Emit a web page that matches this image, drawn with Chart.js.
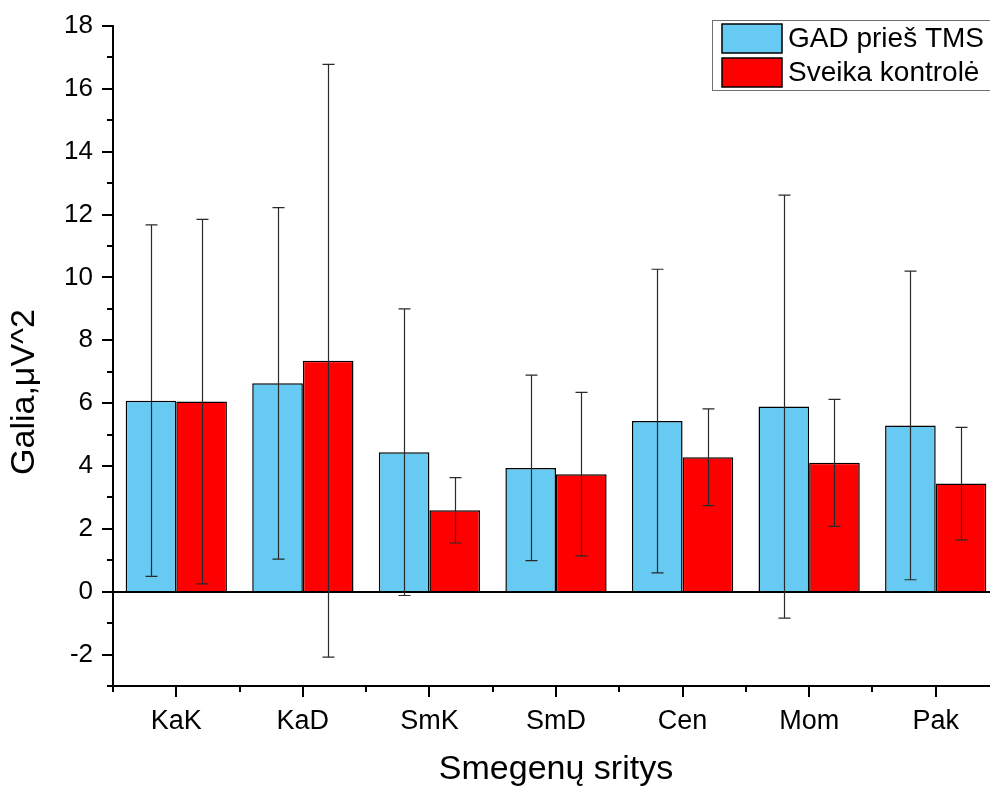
<!DOCTYPE html>
<html>
<head>
<meta charset="utf-8">
<script src="https://cdn.jsdelivr.net/npm/chart.js@4.4.1/dist/chart.umd.min.js"></script>
<style>
  html, body { margin: 0; padding: 0; background: #fff; overflow: hidden; }
  canvas { display: block; }
</style>
</head>
<body>
<canvas id="c" width="1000" height="787"></canvas>
<script>
const categories = ['KaK', 'KaD', 'SmK', 'SmD', 'Cen', 'Mom', 'Pak'];
const gadMeans  = [6.08, 6.63, 4.44, 3.94, 5.43, 5.89, 5.29];
const gadSD     = [5.59, 5.59, 4.56, 2.95, 4.83, 6.73, 4.91];
const ctrlMeans = [6.05, 7.35, 2.59, 3.74, 4.28, 4.10, 3.44];
const ctrlSD    = [5.80, 9.43, 1.04, 2.60, 1.54, 2.02, 1.79];
const seriesLabels = ['GAD prieš TMS', 'Sveika kontrolė'];
const yTitle = 'Galia,μV^2';
const xTitle = 'Smegenų sritys';

const FONT = '"Liberation Sans", Arial, sans-serif';
const errors = [gadSD, ctrlSD];

const decorPlugin = {
  id: 'decor',
  beforeDatasetsDraw(chart) {
    const ctx = chart.ctx, a = chart.chartArea;
    const y = chart.scales.y, x = chart.scales.x;
    ctx.save();
    ctx.strokeStyle = '#000';
    ctx.lineWidth = 2;
    for (let v = Math.ceil(y.min); v <= y.max; v++) {
      const py = Math.round(y.getPixelForValue(v));
      const len = (v % 2 === 0) ? 11 : 6;
      ctx.beginPath(); ctx.moveTo(a.left, py); ctx.lineTo(a.left - len, py); ctx.stroke();
    }
    for (let i = 0; i < categories.length; i++) {
      const px = Math.round(x.getPixelForValue(i));
      ctx.beginPath(); ctx.moveTo(px, a.bottom); ctx.lineTo(px, a.bottom + 11); ctx.stroke();
    }
    for (let i = 0; i <= categories.length; i++) {
      const px = Math.round(x.getPixelForValue(i - 0.5));
      ctx.beginPath(); ctx.moveTo(px, a.bottom); ctx.lineTo(px, a.bottom + 6); ctx.stroke();
    }
    ctx.restore();
  },
  afterDatasetsDraw(chart) {
    const ctx = chart.ctx, a = chart.chartArea, y = chart.scales.y;
    ctx.save();
    const y0 = Math.round(y.getPixelForValue(0));
    ctx.strokeStyle = '#000'; ctx.lineWidth = 2;
    ctx.beginPath(); ctx.moveTo(a.left, y0); ctx.lineTo(a.right, y0); ctx.stroke();
    ctx.strokeStyle = '#2a2a2a'; ctx.lineWidth = 1.2;
    chart.data.datasets.forEach((ds, di) => {
      const meta = chart.getDatasetMeta(di);
      meta.data.forEach((el, i) => {
        const m = ds.data[i], sd = errors[di][i];
        const px = Math.round(el.x) + 0.5;
        const top = y.getPixelForValue(m + sd), bot = y.getPixelForValue(m - sd);
        ctx.beginPath();
        ctx.moveTo(px, top); ctx.lineTo(px, bot);
        ctx.moveTo(px - 6, top); ctx.lineTo(px + 6, top);
        ctx.moveTo(px - 6, bot); ctx.lineTo(px + 6, bot);
        ctx.stroke();
      });
    });
    ctx.restore();
  },
  afterDraw(chart) {
    const ctx = chart.ctx;
    ctx.save();
    ctx.fillStyle = '#000';
    ctx.font = '34px ' + FONT;
    ctx.textAlign = 'center'; ctx.textBaseline = 'middle';
    ctx.translate(25, 392); ctx.rotate(-Math.PI / 2);
    ctx.fillText(yTitle, 0, 0);
    ctx.restore();
    ctx.save();
    ctx.strokeStyle = '#707070'; ctx.lineWidth = 1;
    ctx.strokeRect(712.5, 20.5, 300, 70);
    chart.data.datasets.forEach((ds, di) => {
      const top = 24 + di * 34;
      ctx.fillStyle = ds.backgroundColor;
      ctx.fillRect(722, top, 60, 29);
      ctx.strokeStyle = '#000'; ctx.lineWidth = 1.5;
      ctx.strokeRect(722, top, 60, 29);
      ctx.fillStyle = '#000';
      ctx.font = '28px ' + FONT;
      ctx.textAlign = 'left'; ctx.textBaseline = 'middle';
      ctx.fillText(ds.label, 788, top + 15);
    });
    ctx.restore();
  }
};

new Chart(document.getElementById('c'), {
  type: 'bar',
  data: {
    labels: categories,
    datasets: [
      { label: seriesLabels[0], data: gadMeans, backgroundColor: '#66CAF3', borderColor: '#000', borderWidth: 1.5 },
      { label: seriesLabels[1], data: ctrlMeans, backgroundColor: '#FF0000', borderColor: '#000', borderWidth: 1.5 }
    ]
  },
  options: {
    responsive: false,
    animation: false,
    events: [],
    layout: { padding: { top: 26, right: 1, left: 0, bottom: 0 } },
    datasets: { bar: { barPercentage: 1.0, categoryPercentage: 0.8 } },
    plugins: { legend: { display: false }, tooltip: { enabled: false } },
    scales: {
      x: {
        grid: { drawOnChartArea: false, tickColor: 'transparent', tickLength: 11 },
        border: { display: true, color: '#000', width: 2 },
        ticks: { color: '#000', font: { family: FONT, size: 27 }, padding: 8, maxRotation: 0 },
        title: { display: true, text: xTitle, color: '#000', font: { family: FONT, size: 34, lineHeight: 1.0 }, padding: { top: 0, bottom: 0 } },
        afterFit(s) { s.height = 101; }
      },
      y: {
        min: -3, max: 18,
        grid: { drawOnChartArea: false, tickColor: 'transparent', tickLength: 11 },
        border: { display: true, color: '#000', width: 2 },
        ticks: {
          stepSize: 1, autoSkip: false, color: '#000', padding: 9,
          font: { family: FONT, size: 26 },
          callback: (v) => (v % 2 === 0 ? String(v) : '')
        },
        afterFit(s) { s.width = 113; }
      }
    }
  },
  plugins: [decorPlugin]
});
</script>
</body>
</html>
